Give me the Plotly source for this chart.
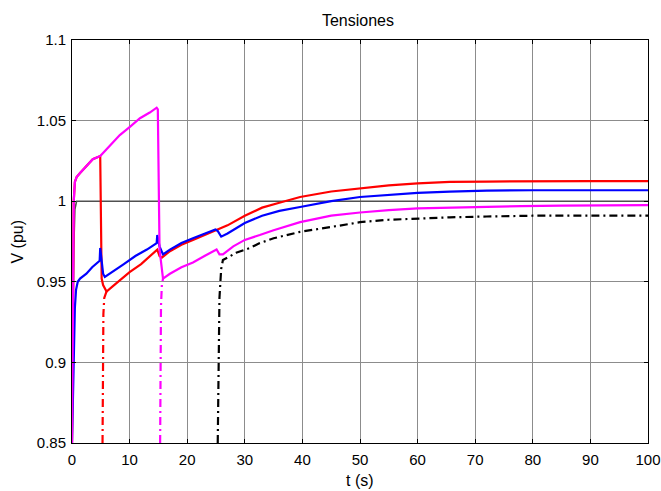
import plotly.graph_objects as go

# ---- data ----
ref_t = [0.0, 0.3, 0.5, 0.8, 100.0]
ref_v = [0.85, 0.97, 0.995, 1.0, 1.0]

red_t = [0.0, 0.15, 0.3, 0.5, 0.8, 1.4, 2.5, 3.6, 4.9, 4.95, 5.15, 5.4, 6.0, 7.0, 8.0, 10.0, 12.0, 14.0, 14.8,
         15.2, 15.6, 17.0, 19.0, 21.0, 23.0, 25.0, 27.0, 30.0, 33.0, 36.0, 39.6, 45.0, 50.0, 55.0, 60.0,
         65.6, 72.0, 80.0, 90.0, 100.0]
red_v = [0.85, 0.93, 1.0, 1.012, 1.015, 1.0175, 1.022, 1.026, 1.028, 1.0, 0.952, 0.948, 0.944, 0.947, 0.950,
         0.956, 0.961, 0.967, 0.970, 0.966, 0.965, 0.969, 0.973, 0.976, 0.979, 0.982, 0.985, 0.991, 0.996,
         0.999, 1.0026, 1.006, 1.008, 1.0098, 1.011, 1.012, 1.0122, 1.0125, 1.0125, 1.0125]
red_dd_t = [5.3, 5.35, 5.45, 5.6, 6.0]
red_dd_v = [0.85, 0.90, 0.93, 0.940, 0.944]

blue_t = [0.0, 0.2, 0.35, 0.5, 0.7, 1.0, 1.4, 2.5, 3.5, 4.5, 4.8, 4.9, 5.1, 5.4, 5.7, 7.0, 9.0, 11.0, 13.0,
          14.7, 14.8, 15.2, 15.8, 17.0, 19.0, 21.0, 23.0, 24.9, 25.3, 25.9, 27.0, 30.0, 33.0, 36.0, 39.6,
          45.0, 50.0, 55.0, 60.0, 65.6, 72.0, 80.0, 90.0, 100.0]
blue_v = [0.85, 0.88, 0.92, 0.934, 0.945, 0.950, 0.952, 0.955, 0.959, 0.962, 0.963, 0.971, 0.965, 0.955,
          0.953, 0.956, 0.961, 0.966, 0.970, 0.974, 0.979, 0.972, 0.967, 0.970, 0.974, 0.977, 0.980, 0.9825,
          0.9815, 0.978, 0.980, 0.9865, 0.991, 0.994, 0.9964, 1.0, 1.0026, 1.004, 1.0052, 1.006, 1.0066,
          1.0068, 1.0068, 1.0068]

mag_t = [0.0, 0.15, 0.3, 0.5, 0.8, 1.4, 2.5, 3.6, 4.9, 6.5, 8.3, 10.0, 11.8, 13.5, 14.7, 14.9, 15.0, 15.2,
         15.8, 17.0, 19.0, 21.0, 23.0, 25.1, 25.6, 26.2, 28.0, 30.0, 32.6, 35.0, 39.6, 45.0, 50.0, 55.0,
         60.0, 65.6, 71.4, 78.0, 85.0, 92.0, 100.0]
mag_v = [0.85, 0.93, 1.0, 1.012, 1.015, 1.0175, 1.022, 1.026, 1.028, 1.034, 1.041, 1.046, 1.0515, 1.055,
         1.058, 1.057, 1.021, 0.97, 0.952, 0.955, 0.959, 0.962, 0.966, 0.970, 0.967, 0.967, 0.972, 0.976,
         0.979, 0.982, 0.987, 0.991, 0.993, 0.9945, 0.9955, 0.996, 0.9966, 0.997, 0.9973, 0.9975, 0.9976]
mag_dd_t = [15.3, 15.35, 15.45, 15.6, 15.8]
mag_dd_v = [0.85, 0.90, 0.935, 0.948, 0.952]

blk_dd_t = [25.3, 25.4, 25.6, 25.9, 26.2, 27.0, 28.5, 30.9, 32.6, 35.0, 39.6, 45.0, 50.0, 55.0, 60.0, 65.6,
            72.0, 80.0, 90.0, 100.0]
blk_dd_v = [0.85, 0.90, 0.94, 0.958, 0.9635, 0.965, 0.968, 0.971, 0.974, 0.977, 0.981, 0.984, 0.987,
            0.9885, 0.9893, 0.990, 0.9905, 0.991, 0.991, 0.991]

x_ticks = [0, 10, 20, 30, 40, 50, 60, 70, 80, 90, 100]
y_ticks = [0.85, 0.9, 0.95, 1.0, 1.05, 1.1]
y_tick_text = ["0.85", "0.9", "0.95", "1", "1.05", "1.1"]

DD = "8px,4px,2px,4px"
FONT = "Liberation Sans, Arial, sans-serif"

fig = go.Figure()
fig.add_trace(go.Scatter(x=ref_t, y=ref_v, mode="lines", line=dict(color="#505050", width=1.6)))
fig.add_trace(go.Scatter(x=red_t, y=red_v, mode="lines", line=dict(color="#ff0000", width=2.2)))
fig.add_trace(go.Scatter(x=red_dd_t, y=red_dd_v, mode="lines", line=dict(color="#ff0000", width=2.2, dash=DD)))
fig.add_trace(go.Scatter(x=blue_t, y=blue_v, mode="lines", line=dict(color="#0000ff", width=2.2)))
fig.add_trace(go.Scatter(x=mag_t, y=mag_v, mode="lines", line=dict(color="#ff00ff", width=2.2)))
fig.add_trace(go.Scatter(x=mag_dd_t, y=mag_dd_v, mode="lines", line=dict(color="#ff00ff", width=2.2, dash=DD)))
fig.add_trace(go.Scatter(x=blk_dd_t, y=blk_dd_v, mode="lines", line=dict(color="#000000", width=2.2, dash=DD)))

axis_common = dict(
    showline=True, linecolor="black", linewidth=1, mirror="ticks",
    ticks="inside", ticklen=4, tickcolor="black", tickwidth=1,
    showgrid=True, gridcolor="#8c8c8c", gridwidth=1, zeroline=False, automargin=False,
    tickfont=dict(family=FONT, size=15, color="black"),
)

fig.update_xaxes(range=[0, 100], tickvals=x_ticks, ticklabelstandoff=3, **axis_common)
fig.update_yaxes(range=[0.85, 1.1], tickvals=y_ticks, ticktext=y_tick_text, ticklabelstandoff=2, **axis_common)

fig.update_layout(
    width=661, height=491,
    margin=dict(l=72, r=13, t=40, b=48, autoexpand=False),
    paper_bgcolor="white", plot_bgcolor="white",
    showlegend=False, hovermode=False,
    title=dict(text="Tensiones", x=358 / 661, xanchor="center",
               y=1 - 20 / 491, yanchor="middle", yref="container",
               font=dict(family=FONT, size=16, color="black")),
    annotations=[
        dict(text="t (s)", x=0.5, y=-(480 - 443) / 403, xref="paper", yref="paper",
             xanchor="center", yanchor="middle", showarrow=False,
             font=dict(family=FONT, size=16, color="black")),
        dict(text="V (pu)", x=-(72 - 17) / 576, y=0.5, xref="paper", yref="paper",
             xanchor="center", yanchor="middle", textangle=-90, showarrow=False,
             font=dict(family=FONT, size=16, color="black")),
    ],
)

fig.write_html("out.html")
